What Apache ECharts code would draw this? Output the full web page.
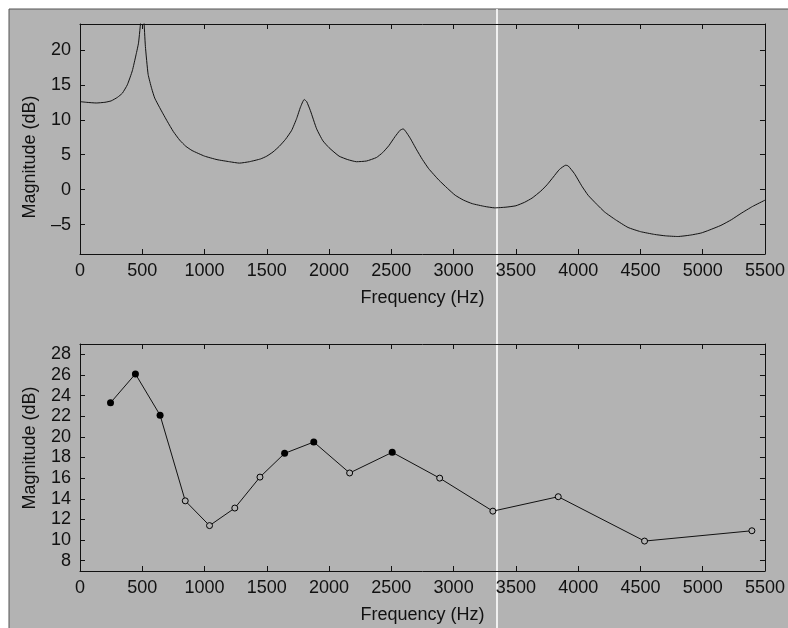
<!DOCTYPE html>
<html>
<head>
<meta charset="utf-8">
<script src="https://cdn.jsdelivr.net/npm/echarts@6/dist/echarts.min.js"></script>
<style>
  html, body { margin: 0; padding: 0; background: #fff; }
  #chart { width: 788px; height: 628px; }
</style>
</head>
<body>
<div id="chart"></div>
<script>
// top panel: magnitude response
const specFreq = [0, 50, 130, 200, 250, 300, 340, 380, 420, 450, 470, 490, 500, 512, 525, 547, 575, 600, 650, 700, 750, 800, 850, 900, 1000, 1100, 1200, 1280, 1360, 1450, 1500, 1550, 1600, 1650, 1700, 1740, 1770, 1800, 1820, 1850, 1900, 1950, 2000, 2080, 2150, 2220, 2300, 2380, 2430, 2480, 2530, 2570, 2595, 2650, 2700, 2750, 2800, 2880, 2950, 3013, 3080, 3150, 3250, 3330, 3420, 3500, 3570, 3630, 3700, 3750, 3800, 3850, 3900, 3920, 3970, 4030, 4080, 4150, 4213, 4300, 4400, 4500, 4613, 4700, 4800, 4900, 4987, 5050, 5147, 5230, 5307, 5400, 5500]
const specMag = [12.6, 12.5, 12.4, 12.5, 12.7, 13.2, 13.8, 15.0, 17.0, 19.3, 21.0, 24.5, 26.0, 24.5, 20.5, 16.5, 14.5, 13.1, 11.4, 9.8, 8.3, 7.1, 6.2, 5.6, 4.8, 4.3, 4.0, 3.8, 4.0, 4.4, 4.8, 5.4, 6.2, 7.2, 8.5, 10.2, 11.8, 12.9, 12.6, 11.3, 8.7, 7.0, 6.0, 4.8, 4.3, 4.0, 4.1, 4.6, 5.3, 6.3, 7.6, 8.5, 8.7, 7.4, 5.8, 4.3, 3.0, 1.4, 0.2, -0.8, -1.5, -2.0, -2.4, -2.6, -2.5, -2.3, -1.8, -1.2, -0.2, 0.7, 1.8, 2.9, 3.5, 3.4, 2.3, 0.5, -0.8, -2.1, -3.2, -4.3, -5.4, -6.0, -6.4, -6.6, -6.7, -6.5, -6.2, -5.8, -5.1, -4.3, -3.4, -2.4, -1.5]

// bottom panel: harmonic magnitudes, 1 = picked peak
const harmFreq = [245, 445, 643, 845, 1040, 1243, 1445, 1643, 1877, 2165, 2507, 2888, 3315, 3840, 4533, 5395]
const harmMag = [23.3, 26.1, 22.1, 13.8, 11.4, 13.1, 16.1, 18.4, 19.5, 16.5, 18.5, 16.0, 12.8, 14.2, 9.9, 10.9]
const harmPeak = [1, 1, 1, 0, 0, 0, 0, 1, 1, 0, 1, 0, 0, 0, 0, 0]

const freqTicks = { min: 0, max: 5500, interval: 500 }
const topTicks = [-5, 0, 5, 10, 15, 20]
const botTicks = [8, 10, 12, 14, 16, 18, 20, 22, 24, 26, 28]

const bg = '#b3b3b3'
const ink = '#111'
const font = 'Liberation Sans, Arial, sans-serif'

const chart = echarts.init(document.getElementById('chart'))

function xAxes(grid) {
  return [{
    gridIndex: grid,
    type: 'value',
    ...freqTicks,
    position: 'bottom',
    name: 'Frequency (Hz)',
    nameLocation: 'middle',
    nameGap: 35,
    nameTextStyle: { color: ink, fontSize: 18, fontFamily: font },
    axisLine: { onZero: false, lineStyle: { color: ink, width: 1 } },
    axisTick: { inside: true, length: 5, lineStyle: { color: ink } },
    axisLabel: { margin: 8, color: ink, fontSize: 18, fontFamily: font, formatter: v => String(v) },
    splitLine: { show: false }
  }, {
    gridIndex: grid,
    type: 'value',
    ...freqTicks,
    position: 'top',
    axisLine: { onZero: false, lineStyle: { color: ink, width: 1 } },
    axisTick: { inside: true, length: 5, lineStyle: { color: ink } },
    axisLabel: { show: false },
    splitLine: { show: false }
  }]
}

function yAxes(grid, min, max, ticks, pad) {
  return [{
    gridIndex: grid,
    type: 'value',
    min: min,
    max: max,
    position: 'left',
    name: 'Magnitude (dB)',
    nameLocation: 'middle',
    nameGap: 41,
    nameTextStyle: { color: ink, fontSize: 18, fontFamily: font, padding: pad },
    axisLine: { show: true, onZero: false, lineStyle: { color: ink, width: 1 } },
    axisTick: { show: true, inside: true, length: 5, customValues: ticks, lineStyle: { color: ink } },
    axisLabel: {
      margin: 9, color: ink, fontSize: 18, fontFamily: font, customValues: ticks,
      formatter: v => String(v).replace('-', '\u2013')
    },
    splitLine: { show: false }
  }, {
    gridIndex: grid,
    type: 'value',
    min: min,
    max: max,
    position: 'right',
    axisLine: { show: true, onZero: false, lineStyle: { color: ink, width: 1 } },
    axisTick: { show: true, inside: true, length: 5, customValues: ticks, lineStyle: { color: ink } },
    axisLabel: { show: false },
    splitLine: { show: false }
  }]
}

const harmData = harmFreq.map((f, i) => ({
  value: [f, harmMag[i]],
  symbolSize: harmPeak[i] ? 7 : 6,
  itemStyle: harmPeak[i]
    ? { color: '#000', borderColor: '#000', borderWidth: 0 }
    : { color: bg, borderColor: '#000', borderWidth: 1 }
}))

chart.setOption({
  animation: false,
  backgroundColor: '#fff',
  graphic: [{
    type: 'rect',
    shape: { x: 9, y: 9, width: 790, height: 630 },
    style: { fill: bg, stroke: '#555', lineWidth: 1 },
    z: -10
  }, {
    type: 'line',
    shape: { x1: 497, y1: 9, x2: 497, y2: 628 },
    style: { stroke: 'rgba(255,255,255,0.8)', lineWidth: 2 },
    z: -5
  }],
  grid: [
    { left: 80, top: 24, width: 688, height: 230 },
    { left: 80, top: 344, width: 688, height: 227 }
  ],
  xAxis: [...xAxes(0), ...xAxes(1)],
  yAxis: [
    ...yAxes(0, -9.2, 23.7, topTicks, [0, 36, 0, 0]),
    ...yAxes(1, 7, 29, botTicks, [0, 0, 0, 19])
  ],
  series: [{
    type: 'line',
    xAxisIndex: 0,
    yAxisIndex: 0,
    data: specFreq.map((f, i) => [f, specMag[i]]),
    showSymbol: false,
    smooth: 0.15,
    clip: true,
    lineStyle: { color: ink, width: 1 }
  }, {
    type: 'line',
    xAxisIndex: 2,
    yAxisIndex: 2,
    data: harmData,
    symbol: 'circle',
    showSymbol: true,
    lineStyle: { color: ink, width: 1 }
  }]
})
</script>
</body>
</html>
